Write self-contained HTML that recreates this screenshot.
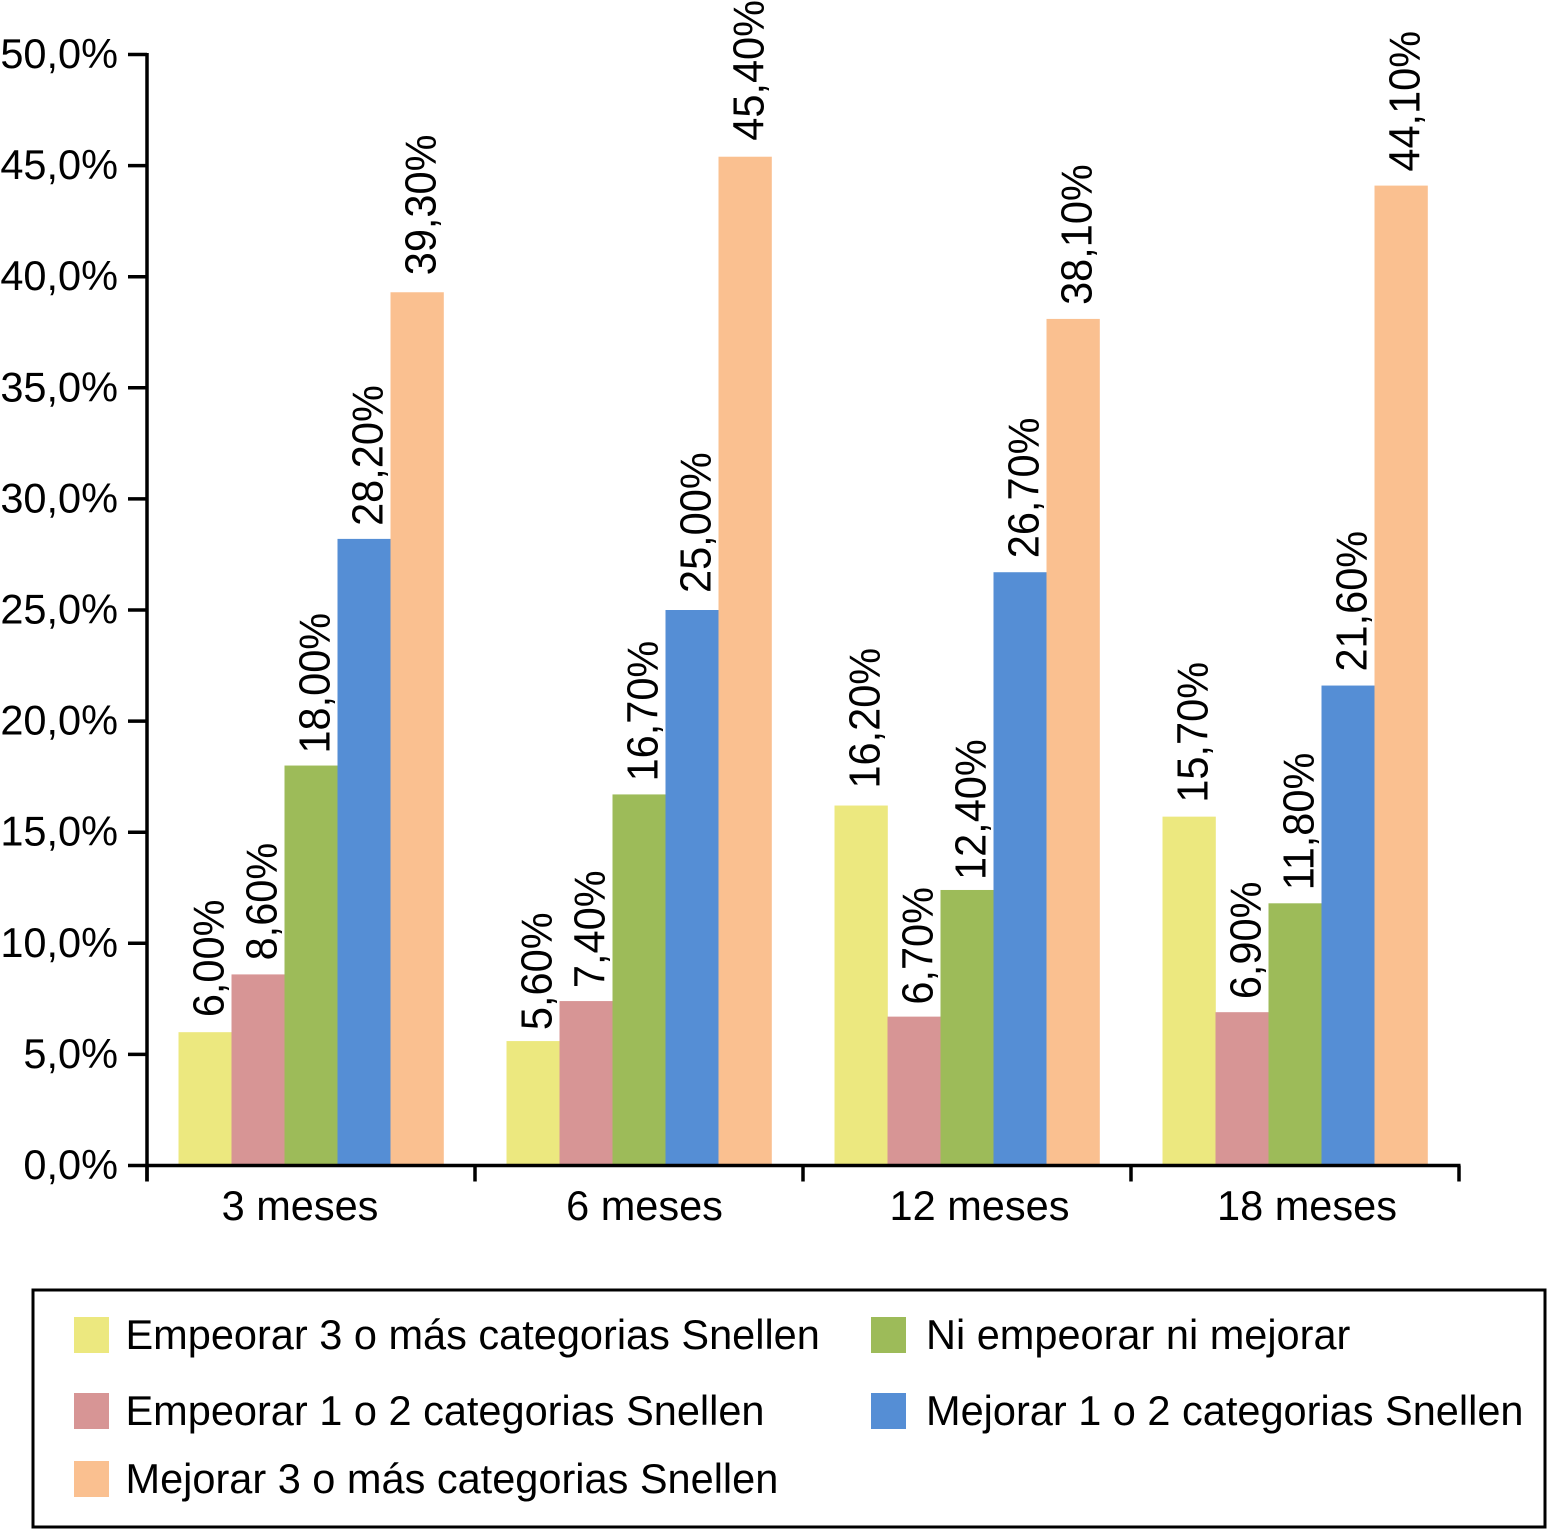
<!DOCTYPE html>
<html>
<head>
<meta charset="utf-8">
<style>
html,body{margin:0;padding:0;background:#fff;}
svg{display:block;}
text{font-family:"Liberation Sans",Arial,sans-serif;fill:#000;}
</style>
</head>
<body>
<svg id="chart" width="1547" height="1530" viewBox="0 0 1547 1530" xmlns="http://www.w3.org/2000/svg"></svg>
<script>
const categories = ['3 meses', '6 meses', '12 meses', '18 meses'];
const seriesNames = ['Empeorar 3 o más categorias Snellen', 'Empeorar 1 o 2 categorias Snellen', 'Ni empeorar ni mejorar', 'Mejorar 1 o 2 categorias Snellen', 'Mejorar 3 o más categorias Snellen'];
const empeorar3 = [6.0, 5.6, 16.2, 15.7];
const empeorar12 = [8.6, 7.4, 6.7, 6.9];
const niEmpeorarNiMejorar = [18.0, 16.7, 12.4, 11.8];
const mejorar12 = [28.2, 25.0, 26.7, 21.6];
const mejorar3 = [39.3, 45.4, 38.1, 44.1];
const yTicks = [0, 5, 10, 15, 20, 25, 30, 35, 40, 45, 50];

const allSeries = [empeorar3, empeorar12, niEmpeorarNiMejorar, mejorar12, mejorar3];
const colors = ['#ece87f', '#d79595', '#9dbb59', '#558ed5', '#fac090'];
const labelNudge = [[-1, 3, -3, 0], [0, 1, 2, 1], [2, 1, 4, 1], [1, -3, 0, 0], [-3, -2, 0, 0]];
const svg = document.getElementById('chart');
const NS = 'http://www.w3.org/2000/svg';
function make(tag, attrs, txt) {
  const e = document.createElementNS(NS, tag);
  for (const k in attrs) e.setAttribute(k, attrs[k]);
  if (txt !== undefined) e.textContent = txt;
  svg.appendChild(e);
  return e;
}
const plotLeft = 147, plotRight = 1459, y0 = 1165.5, y50 = 54.5;
const fontSize = 41.5;
const axisStroke = 3.5;
function yScale(v) { return y0 - (v / 50) * (y0 - y50); }
const groupW = (plotRight - plotLeft) / categories.length;
const barW = 53, groupPad = 31.5;
const categoryLabelShift = [-11, 5.5, 12.5, 12];
function xScale(c, s) { return plotLeft + c * groupW + groupPad + s * barW; }
function fmt(v, d) { return v.toFixed(d).replace('.', ',') + '%'; }

allSeries.forEach(function (vals, s) {
  vals.forEach(function (v, c) {
    const b = make('rect', {x: xScale(c, s), y: yScale(v), width: barW + 0.3, height: y0 - yScale(v), fill: colors[s]});
    
    
    const lx = xScale(c, s) + barW / 2 + 18.5;
    const ly = yScale(v) - 14 + labelNudge[s][c];
    const t = make('text', {x: 0, y: 0, 'font-size': fontSize, transform: 'translate(' + lx + ' ' + ly + ') rotate(-90) scale(1 1.05)'}, fmt(v, 2));
    
    
  });
});

const yAxis = make('line', {x1: plotLeft, x2: plotLeft, y1: y50 - 1.5, y2: y0 + 16, stroke: '#000', 'stroke-width': axisStroke});


const xAxis = make('line', {x1: plotLeft - 1.5, x2: plotRight + 1.5, y1: y0, y2: y0, stroke: '#000', 'stroke-width': axisStroke});



yTicks.forEach(function (v) {
  const tick = make('line', {x1: plotLeft - 19, x2: plotLeft, y1: yScale(v), y2: yScale(v), stroke: '#000', 'stroke-width': axisStroke});
  
  
  const lab = make('text', {x: 118, y: yScale(v) + 13.5, 'font-size': fontSize, 'text-anchor': 'end'}, fmt(v, 1));
  
  
});

for (let i = 0; i <= categories.length; i++) {
  const x = plotLeft + i * groupW;
  const tick = make('line', {x1: x, x2: x, y1: y0, y2: y0 + 16, stroke: '#000', 'stroke-width': axisStroke});
  
  
}
categories.forEach(function (c, i) {
  const lab = make('text', {x: plotLeft + (i + 0.5) * groupW + categoryLabelShift[i], y: 1220, 'font-size': fontSize, 'text-anchor': 'middle'}, c);
  
  
});

const box = make('rect', {x: 33, y: 1290, width: 1512, height: 237, fill: 'none', stroke: '#000', 'stroke-width': 3});


const legendPos = [[74, 1317], [74, 1393], [871, 1317], [871, 1393], [74, 1461]];
seriesNames.forEach(function (n, i) {
  const p = legendPos[i];
  const sw = make('rect', {x: p[0], y: p[1], width: 35, height: 36, fill: colors[i]});
  
  
  const t = make('text', {x: p[0] + 51.5 + (i === 2 || i === 3 ? 3.5 : 0), y: p[1] + 32, 'font-size': fontSize}, n);
  
  
});
</script>
</body>
</html>
